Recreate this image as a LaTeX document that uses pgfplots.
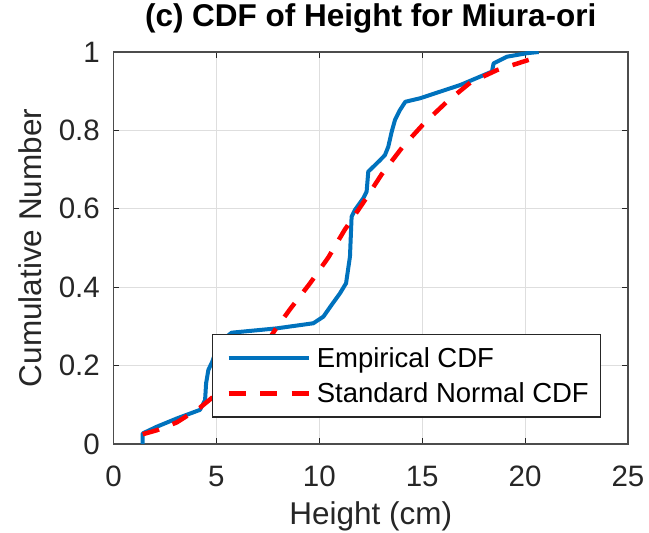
\documentclass[border=0pt]{standalone}
\usepackage{pgfplots}
\pgfplotsset{compat=1.18}
\usepackage{fontspec}
\setmainfont{Liberation Sans}
\definecolor{mblue}{rgb}{0,0.447,0.741}
\definecolor{axgray}{rgb}{0.15,0.15,0.15}
\definecolor{gridgray}{rgb}{0.87,0.87,0.87}

\pgfplotstableread{
x y
1.42 0
1.42 0.027
2.10 0.044
3.07 0.065
4.20 0.087
4.45 0.112
4.50 0.155
4.61 0.189
4.80 0.210
5.00 0.240
5.30 0.265
5.74 0.284
7.93 0.295
9.71 0.308
10.20 0.325
10.60 0.355
11.00 0.384
11.30 0.410
11.49 0.478
11.57 0.580
11.73 0.597
12.14 0.627
12.30 0.644
12.38 0.695
12.62 0.707
12.95 0.724
13.19 0.737
13.35 0.758
13.52 0.797
13.68 0.827
13.92 0.852
14.18 0.873
14.90 0.882
16.86 0.916
18.39 0.950
18.47 0.971
19.12 0.988
20.10 0.997
20.66 1.000
}\empirical

\pgfplotstableread{
x y
1.42 0.025
2.10 0.035
3.07 0.055
4.21 0.093
4.86 0.121
6.00 0.163
7.00 0.222
7.85 0.291
8.58 0.344
9.55 0.410
10.44 0.476
11.23 0.546
12.14 0.616
13.03 0.688
14.05 0.758
15.09 0.818
16.20 0.873
17.34 0.922
18.64 0.954
20.18 0.980
20.66 0.986
}\normalcdf

\begin{document}
\begin{tikzpicture}
\useasboundingbox (-113.5pt,-89pt) rectangle (535.5pt,444pt);
\begin{axis}[
  scale only axis,
  width=514.5pt, height=392pt,
  at={(0pt,0pt)}, anchor=south west,
  xmin=0, xmax=25, ymin=0, ymax=1,
  xtick={0,5,10,15,20,25},
  ytick={0,0.2,0.4,0.6,0.8,1},
  /pgf/number format/assume math mode=true,
  tick align=inside,
  major tick length=6pt,
  tick style={draw=axgray, line width=1pt},
  axis line style={draw=black!70, line width=1.4pt},
  grid=major,
  major grid style={draw=gridgray, line width=1pt},
  ticklabel style={font=\fontsize{29.5}{32}\selectfont, text=axgray, inner sep=0pt},
  xticklabel style={anchor=center, yshift=-32pt},
  yticklabel style={anchor=east, xshift=-13.5pt},
  title={(c) CDF of Height for Miura-ori},
  title style={at={(axis description cs:0.5,1.0485)}, anchor=base, inner sep=0pt,
    font=\fontsize{31.5}{34}\selectfont\bfseries},
  xlabel={Height (cm)},
  xlabel style={at={(axis description cs:0.5,-0.2066)}, anchor=base, inner sep=0pt,
    font=\fontsize{31.5}{34}\selectfont, text=axgray},
  ylabel={Cumulative Number},
  ylabel style={at={(axis description cs:-0.139,0.5)}, anchor=base, rotate=0, inner sep=0pt,
    font=\fontsize{31.5}{34}\selectfont, text=axgray},
  legend cell align=left,
  legend style={at={(rel axis cs:0.1909,0.0671)}, anchor=south west,
    draw=black!85, line width=1.2pt, fill=white,
    font=\fontsize{27.5}{30}\selectfont,
    inner xsep=10pt, inner ysep=11pt, row sep=10pt,
    nodes={inner sep=2pt}},
  legend image code/.code={%
    \draw[#1] (4pt,0pt) -- (84pt,0pt);
    \path (0pt,0pt) (88pt,0pt);},
]
\addplot[mblue, line width=4pt, line join=round] table {\empirical};
\addlegendentry{Empirical CDF}
\addplot[red, line width=4.5pt, dash pattern=on 17pt off 14.5pt] table {\normalcdf};
\addlegendentry{Standard Normal CDF}
\end{axis}
\end{tikzpicture}
\end{document}
